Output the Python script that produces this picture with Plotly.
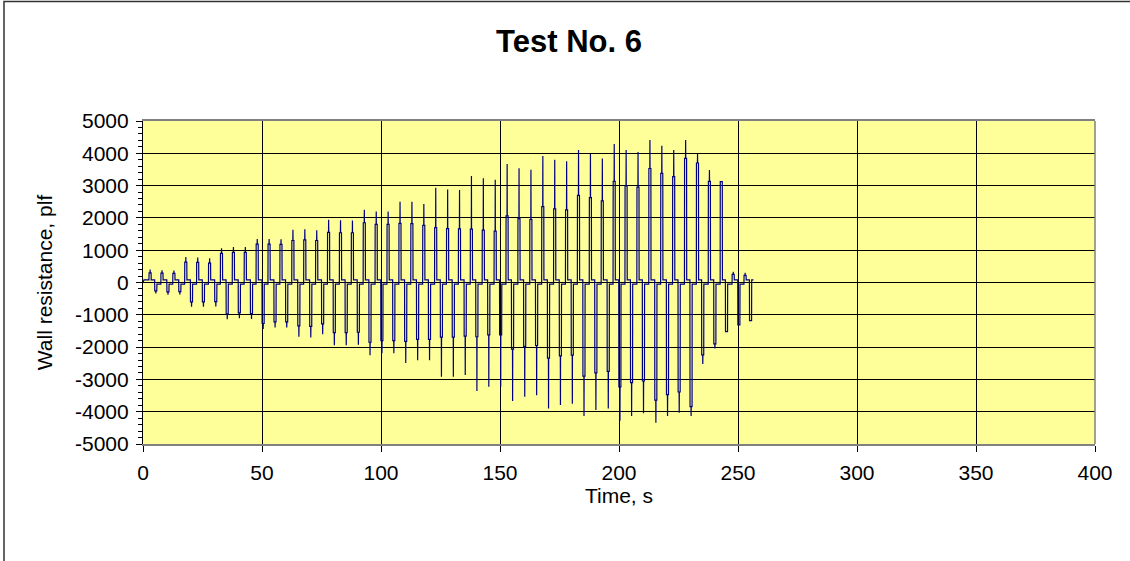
import plotly.graph_objects as go

# ---------------- data ----------------
# time of each positive spike (s)
t_pos = [3, 8, 13, 18, 23, 28, 33, 38, 43, 48, 53, 58, 63, 68, 73, 78, 83, 88,
         93, 98, 103, 108, 113, 118, 123, 128, 133, 138, 143, 148, 153, 158,
         163, 168, 173, 178, 183, 188, 193, 198, 203, 208, 213, 218, 223, 228,
         233, 238, 243, 248, 253]
pos_peak = [400, 380, 370, 790, 770, 750, 1060, 1100, 1100, 1350, 1350, 1340,
            1630, 1650, 1620, 1940, 1930, 1920, 2250, 2200, 2200, 2500, 2500, 2430,
            2930, 2880, 2860, 3300, 3230, 3180, 3670, 3540, 3490, 3920, 3800, 3750,
            4100, 3980, 3840, 4290, 4100, 4040, 4410, 4230, 4100, 4410, 3980, 3480,
            3120, 330, 300]
pos_plat = [300, 290, 280, 630, 620, 600, 900, 930, 930, 1190, 1190, 1180,
            1300, 1320, 1300, 1550, 1540, 1540, 1850, 1800, 1800, 1830, 1820, 1770,
            1700, 1670, 1660, 1650, 1620, 1590, 2060, 1980, 1950, 2350, 2280, 2250,
            2700, 2630, 2530, 3130, 2990, 2950, 3530, 3380, 3280, 3840, 3700, 3130,
            3120, 250, 220]
# time of each negative spike (s)
t_neg = [5.4, 10.5, 15.5, 20.4, 25.4, 30.6, 35.4, 40.5, 45.6, 50.5, 55.5, 60.4,
         65.5, 70.5, 75.5, 80.4, 85.4, 90.5, 95.4, 100.4, 105.4, 110.4, 115.4,
         120.4, 125.4, 130.4, 135.4, 140.3, 145.3, 150.3, 155.3, 160.4, 165.4,
         170.4, 175.4, 180.4, 185.3, 190.3, 195.5, 200.4, 205.3, 210.3, 215.5,
         220.4, 225.3, 230.3, 235.2, 240.3, 245.2, 250.4, 255.3]
neg_peak = [-340, -380, -370, -750, -750, -740, -1140, -1110, -1130, -1440, -1390, -1390,
            -1680, -1700, -1600, -1940, -1940, -1930, -2250, -2190, -2190, -2490, -2410, -2410,
            -2920, -2920, -2860, -3360, -3230, -3230, -3670, -3540, -3490, -3900, -3790, -3750,
            -4130, -3950, -3900, -4280, -4130, -4050, -4340, -4130, -4030, -4130, -2520, -2040,
            -1520, -1310, -1180]
neg_plat = [-260, -290, -280, -600, -600, -590, -970, -940, -960, -1270, -1220, -1220,
            -1340, -1360, -1280, -1550, -1550, -1540, -1850, -1800, -1800, -1820, -1760, -1760,
            -1690, -1690, -1660, -1680, -1620, -1620, -2060, -1980, -1950, -2340, -2270, -2250,
            -2900, -2800, -2750, -3230, -3100, -3050, -3640, -3470, -3390, -3840, -2240, -1900,
            -1520, -1310, -1180]
res_after_pos = 80      # near-zero level after a positive pulse
res_after_neg = -50     # near-zero level after a negative pulse
start_t = [0.0, 0.4]
start_v = [0, 80]
end_t = 256.5
end_v = 80

x_ticks = [0, 50, 100, 150, 200, 250, 300, 350, 400]
x_labels = [str(v) for v in x_ticks]
y_ticks = [-5000, -4000, -3000, -2000, -1000, 0, 1000, 2000, 3000, 4000, 5000]
y_labels = [str(v) for v in y_ticks]

# ---------------- assemble the trace path ----------------
xs = list(start_t)
ys = list(start_v)
prev = start_v[-1]
for i in range(len(t_pos)):
    tp, tn = t_pos[i], t_neg[i]
    xs += [tp - 0.5, tp - 0.45, tp - 0.05, tp, tp + 0.05, tp + 0.4, tp + 0.45,
           tn - 0.5, tn - 0.45, tn - 0.05, tn, tn + 0.05, tn + 0.4, tn + 0.45]
    last = res_after_neg if i < len(t_pos) - 1 else end_v
    ys += [prev, pos_plat[i], pos_plat[i], pos_peak[i], pos_plat[i], pos_plat[i], res_after_pos,
           res_after_pos, neg_plat[i], neg_plat[i], neg_peak[i], neg_plat[i], neg_plat[i], last]
    prev = res_after_neg
xs.append(end_t)
ys.append(end_v)

fig = go.Figure()
fig.add_trace(go.Scatter(x=xs, y=ys, mode="lines",
                         line=dict(color="#000080", width=1.2),
                         hoverinfo="skip", showlegend=False))

L, R, T, B = 143, 35, 121, 117
W, H = 1130, 561
pw, ph = W - L - R, H - T - B

fig.update_layout(
    width=W, height=H,
    margin=dict(l=L, r=R, t=T, b=B, autoexpand=False),
    paper_bgcolor="white",
    plot_bgcolor="#FFFF99",
    showlegend=False,
    font=dict(family="Liberation Sans, Arial, sans-serif", color="black", size=21),
    title=dict(text="<b>Test No. 6</b>", xref="container", x=569 / W, xanchor="center",
               yref="container", y=1 - 41 / H, yanchor="middle",
               font=dict(size=31, family="Liberation Sans, Arial, sans-serif", color="black")),
    xaxis=dict(range=[0, 400], tickmode="array", tickvals=x_ticks, ticktext=x_labels,
               showgrid=True, gridcolor="black", gridwidth=1, zeroline=False,
               ticks="outside", ticklen=6, tickcolor="black", tickwidth=1,
               showline=True, linecolor="#808080", linewidth=1.5, mirror=True,
               ticklabelstandoff=3,
               tickfont=dict(size=21),
               title=dict(text="Time, s", font=dict(size=21), standoff=3)),
    yaxis=dict(range=[-5000, 5000], tickmode="array", tickvals=y_ticks, ticktext=y_labels,
               showgrid=True, gridcolor="black", gridwidth=1, zeroline=False,
               ticks="outside", ticklen=6, tickcolor="black", tickwidth=1,
               minor=dict(tick0=0, dtick=200, ticks="outside", ticklen=4,
                          tickcolor="black", showgrid=False),
               showline=True, linecolor="black", linewidth=1.2,
               ticklabelstandoff=3,
               tickfont=dict(size=21),
               title=dict(text="Wall resistance, plf", font=dict(size=21), standoff=16)),
)

# right plot-area border (grey) and outer chart border
fig.add_shape(type="line", xref="paper", yref="paper", x0=1, x1=1, y0=0, y1=1,
              line=dict(color="#808080", width=1.5), layer="above")
fig.add_shape(type="rect", xref="paper", yref="paper",
              x0=(4 - L) / pw, x1=2.0, y0=-2.0, y1=(H - B - 1.5) / ph,
              line=dict(color="#333333", width=1.5), fillcolor="rgba(0,0,0,0)", layer="above")

fig.write_html("out.html", config={"displayModeBar": False},
               post_script="document.body.style.margin='0px';")
